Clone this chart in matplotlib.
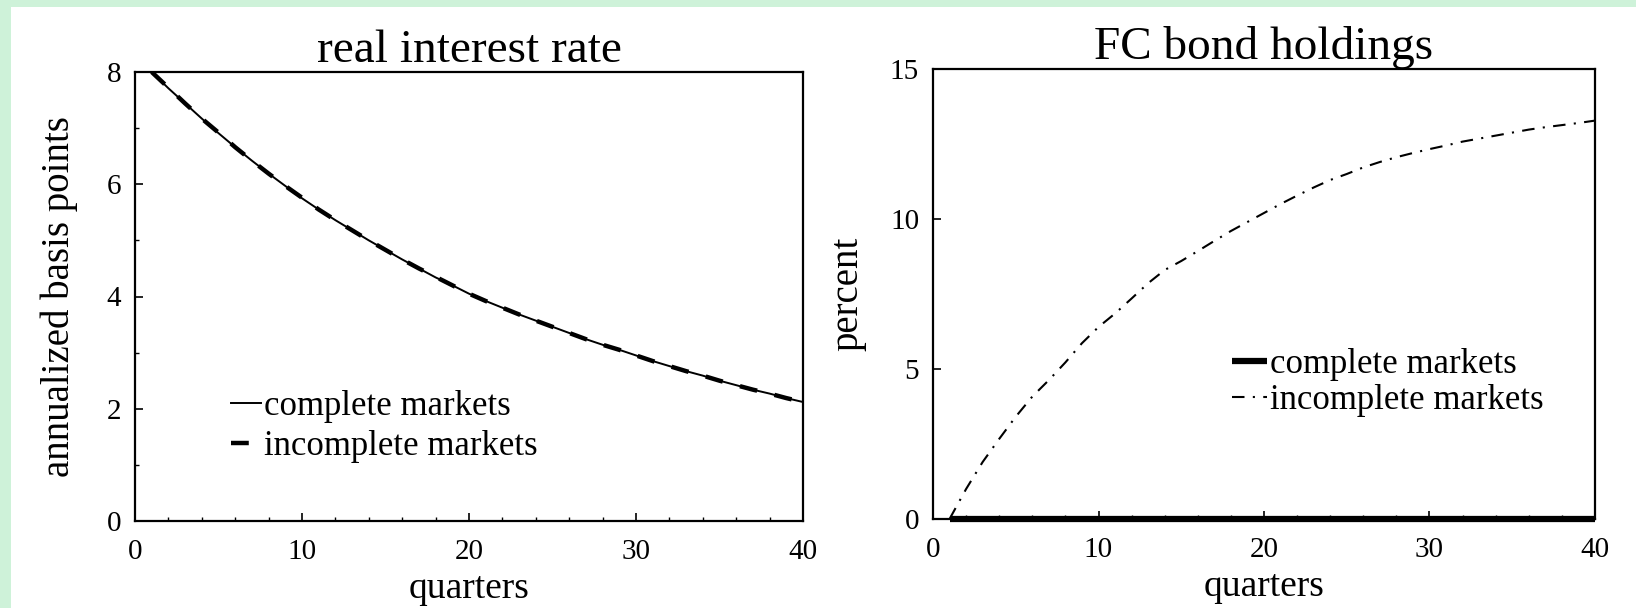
import matplotlib
matplotlib.use("Agg")
import matplotlib.pyplot as plt
from matplotlib.patches import Rectangle
from matplotlib.ticker import MultipleLocator

# quarters 1..40
quarters = list(range(1, 41))

# real interest rate, annualized basis points
rate_complete = [8.00, 7.71, 7.44, 7.17, 6.91, 6.66, 6.42, 6.19, 5.97, 5.75,
                 5.55, 5.36, 5.18, 5.00, 4.83, 4.66, 4.50, 4.34, 4.20, 4.05,
                 3.92, 3.80, 3.68, 3.57, 3.46, 3.35, 3.24, 3.14, 3.05, 2.95,
                 2.85, 2.76, 2.67, 2.59, 2.50, 2.42, 2.34, 2.27, 2.19, 2.12]
rate_incomplete = [8.00, 7.72, 7.44, 7.17, 6.92, 6.66, 6.42, 6.19, 5.97, 5.76,
                   5.55, 5.36, 5.18, 5.00, 4.83, 4.66, 4.50, 4.35, 4.20, 4.05,
                   3.92, 3.80, 3.68, 3.57, 3.46, 3.35, 3.24, 3.14, 3.05, 2.95,
                   2.85, 2.76, 2.67, 2.59, 2.50, 2.42, 2.34, 2.27, 2.19, 2.12]

# FC bond holdings, percent
bonds_complete = [0.0] * 40
bonds_incomplete = [0.00, 1.00, 1.90, 2.67, 3.41, 4.08, 4.63, 5.22, 5.86, 6.40,
                    6.85, 7.35, 7.86, 8.30, 8.60, 8.93, 9.27, 9.60, 9.90, 10.20,
                    10.50, 10.78, 11.05, 11.30, 11.50, 11.72, 11.90, 12.06, 12.20, 12.33,
                    12.45, 12.58, 12.68, 12.78, 12.88, 12.98, 13.06, 13.13, 13.20, 13.28]

labels = ['complete markets', 'incomplete markets']

plt.rcParams['font.family'] = ['Liberation Serif', 'DejaVu Serif']

W, H = 1636, 608
fig = plt.figure(figsize=(W / 100, H / 100), dpi=100, facecolor='#cef2d9')
fig.patches.append(Rectangle((11 / W, 0), 1, 1 - 7 / H, transform=fig.transFigure,
                             facecolor='white', edgecolor='none', zorder=-10))

ax1 = fig.add_axes([135 / W, 1 - 521 / H, (803 - 135) / W, (521 - 72) / H])
ax2 = fig.add_axes([933 / W, 1 - 519 / H, (1595 - 933) / W, (519 - 69) / H])

# left panel
ax1.plot(quarters, rate_complete, color='black', lw=1.4, label=labels[0])
ax1.plot(quarters, rate_incomplete, color='black', lw=3.2, dashes=(4, 4),
         label=labels[1])
ax1.set_xlim(0, 40)
ax1.set_ylim(0, 8)
ax1.set_xticks([0, 10, 20, 30, 40])
ax1.set_yticks([0, 2, 4, 6, 8])
ax1.xaxis.set_minor_locator(MultipleLocator(2))
ax1.yaxis.set_minor_locator(MultipleLocator(1))
ax1.set_title('real interest rate', fontsize=34, pad=6)
ax1.set_xlabel('quarters', fontsize=27)
ax1.set_ylabel('annualized basis points', fontsize=28)
ax1.xaxis.set_label_coords(0.5, -0.112)
ax1.yaxis.set_label_coords(-0.085, 0.5)
ax1.legend(loc='center left', bbox_to_anchor=(0.144, 0.21), frameon=False,
           fontsize=25, handlelength=0.85, handletextpad=0.1, labelspacing=0.2,
           borderpad=0, borderaxespad=0)

# right panel
ax2.plot(quarters, bonds_complete, color='black', lw=4.5, label=labels[0],
         clip_on=False, solid_capstyle='butt', zorder=5)
ax2.plot(quarters, bonds_incomplete, color='black', lw=1.5,
         dashes=(6, 4, 1, 4), label=labels[1])
ax2.set_xlim(0, 40)
ax2.set_ylim(0, 15)
ax2.set_xticks([0, 10, 20, 30, 40])
ax2.set_yticks([0, 5, 10, 15])
ax2.xaxis.set_minor_locator(MultipleLocator(2))
ax2.set_title('FC bond holdings', fontsize=34, pad=6)
ax2.set_xlabel('quarters', fontsize=27)
ax2.set_ylabel('percent', fontsize=28)
ax2.xaxis.set_label_coords(0.5, -0.112)
ax2.yaxis.set_label_coords(-0.10, 0.5)
ax2.legend(loc='center left', bbox_to_anchor=(0.452, 0.303), frameon=False,
           fontsize=25, handlelength=1.0, handletextpad=0.1, labelspacing=0.1,
           borderpad=0, borderaxespad=0)

for ax in (ax1, ax2):
    for s in ax.spines.values():
        s.set_linewidth(1.6)
    ax.tick_params(which='major', direction='in', length=6, width=1.2,
                   labelsize=21)
    ax.tick_params(which='minor', direction='in', length=3, width=1)
    ax.tick_params(axis='x', pad=13)
    ax.tick_params(axis='y', pad=10)

fig.savefig('out.png', dpi=100, facecolor=fig.get_facecolor())
